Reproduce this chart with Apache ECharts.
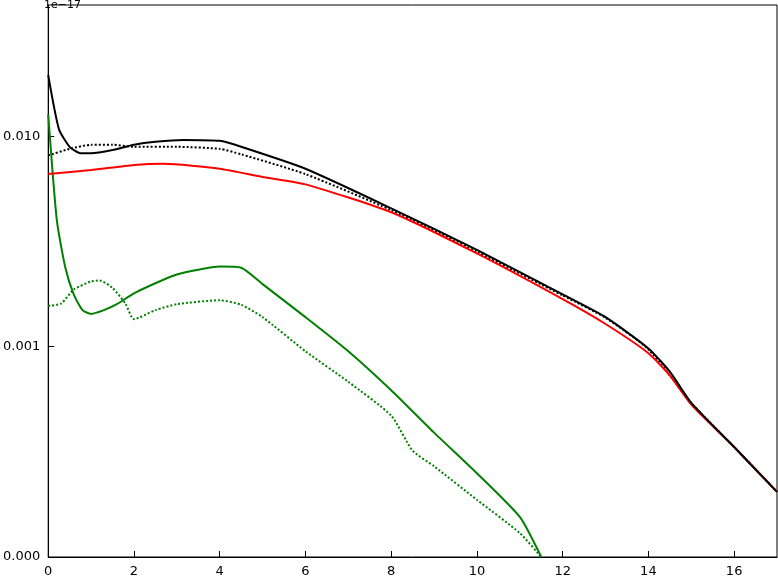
<!DOCTYPE html>
<html>
<head>
<meta charset="UTF-8">
<script src="https://cdn.jsdelivr.net/npm/echarts@6/dist/echarts.min.js"></script>
</head>
<body style="margin:0">
<div id="main" style="width:778px;height:578px;"></div>
<script type="text/javascript">
// values are in units of 1e-17
var blackSolid = [[0,0.0195],[0.25,0.0108],[0.5,0.0089],[0.75,0.0083],[1,0.0083],[1.5,0.0086],[2,0.0091],[2.5,0.0094],[3.15,0.0096],[4,0.0095],[4.5,0.0089],[6,0.0070],[8,0.00454],[10,0.00288],[12,0.00177],[13,0.00138],[14,0.00098],[14.5,0.00076],[15,0.00054],[16,0.000333],[17,0.000204]];
var blackDotted = [[0,0.0081],[0.5,0.0087],[1,0.0091],[1.5,0.0091],[2,0.0089],[3,0.0089],[4,0.0087],[4.5,0.0082],[6,0.0066],[8,0.00445],[10,0.00282],[12,0.00175],[13,0.00137],[14,0.00097],[15,0.00054],[16,0.000333],[17,0.000204]];
var redSolid = [[0,0.0066],[1,0.0069],[2,0.0073],[2.7,0.0074],[4,0.0070],[5,0.0064],[6,0.0059],[8,0.00435],[10,0.00277],[12,0.00168],[13,0.00128],[14,0.00093],[14.5,0.00073],[15,0.00053],[16,0.000333],[17,0.000204]];
var greenSolid = [[0,0.0127],[0.2,0.0040],[0.4,0.00237],[0.6,0.00176],[0.8,0.00149],[1,0.00143],[1.3,0.00149],[1.6,0.00159],[2,0.00179],[2.5,0.0020],[3,0.0022],[3.5,0.00232],[4,0.0024],[4.5,0.00237],[5,0.00198],[6,0.00138],[7,0.00095],[8,0.00062],[9,0.00039],[10,0.00025],[11,0.000155],[11.5,0.0001]];
var greenDotted = [[0,0.00156],[0.3,0.00160],[0.6,0.00187],[1,0.00204],[1.2,0.00206],[1.5,0.00190],[1.8,0.00160],[2,0.00135],[2.5,0.00149],[3,0.00159],[4,0.00166],[4.5,0.00158],[5,0.00138],[6,0.00095],[7,0.00068],[8,0.00047],[8.5,0.00032],[9,0.00027],[10,0.000187],[11,0.00013],[11.5,0.0001]];
var xTicks = [0,2,4,6,8,10,12,14,16];

var myChart = echarts.init(document.getElementById('main'));
function line(data, color, type){
	return {type:'line', data:data, showSymbol:false, clip:true, smooth:0.2,
		lineStyle:{color:color, width:2, type:type}, itemStyle:{color:color}};
}
var option = {
	animation:false,
	grid:{left:42, right:1, top:5, bottom:18, show:true, borderColor:'#000', borderWidth:1},
	graphic:[{type:'text', left:44, top:0, style:{text:'1e\u221217', font:'11px DejaVu Sans', fill:'#000'}}],
	xAxis:{type:'value', min:0, max:17, interval:2,
		axisLine:{lineStyle:{color:'#000'}}, axisTick:{inside:true, length:6, lineStyle:{color:'#000'}},
		splitLine:{show:false}, axisLabel:{color:'#000', fontSize:13, fontFamily:'DejaVu Sans', showMaxLabel:false,
			formatter:function(v){ return xTicks.indexOf(v) >= 0 ? String(v) : ''; }}},
	yAxis:{type:'log', logBase:10, min:0.0001, max:0.042,
		axisLine:{lineStyle:{color:'#000'}}, axisTick:{inside:true, length:6, lineStyle:{color:'#000'}},
		splitLine:{show:false}, minorTick:{show:false},
		axisLabel:{color:'#000', fontSize:13, fontFamily:'DejaVu Sans', showMaxLabel:false,
			formatter:function(v){ return v.toFixed(3); }}},
	series:[
		line(blackDotted,'#000','dotted'),
		line(greenDotted,'#008000','dotted'),
		line(greenSolid,'#008000','solid'),
		line(redSolid,'#ff0000','solid'),
		line(blackSolid,'#000','solid')
	]
};
myChart.setOption(option);
</script>
</body>
</html>
